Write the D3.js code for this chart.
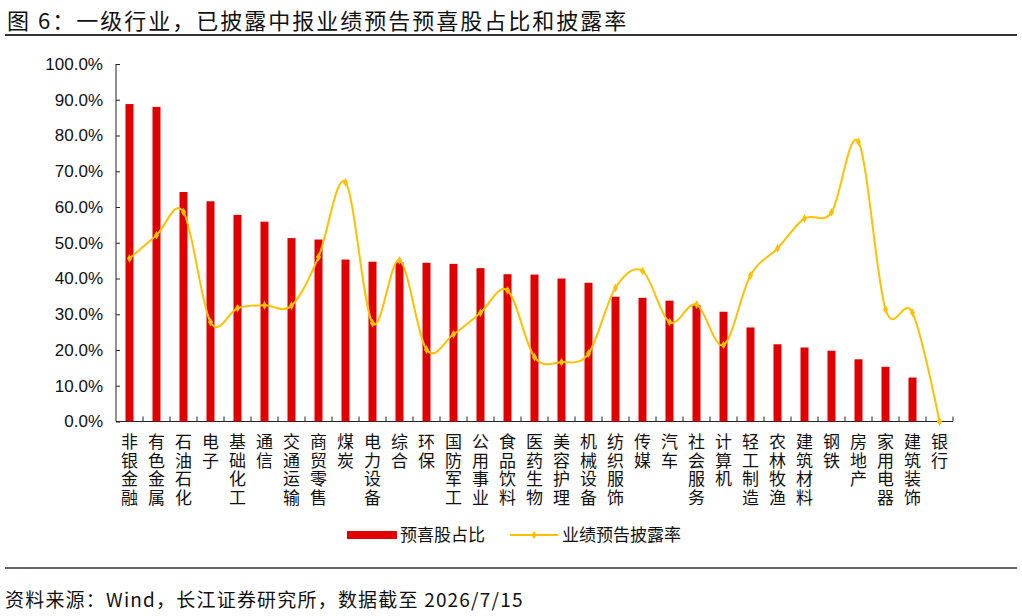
<!DOCTYPE html>
<html>
<head>
<meta charset="utf-8">
<script src="https://cdn.jsdelivr.net/npm/d3@7"></script>
<style>
  body { margin: 0; background: #fff; }
  svg { display: block; }
  .cn { font-family: "Noto Sans CJK SC", sans-serif; }
  .num { font-family: "Liberation Sans", Arial, sans-serif; }
</style>
</head>
<body>
<svg id="chart" width="1022" height="616"></svg>
<script>
  // industries, as printed under the axis
  var categories = ["非银金融", "有色金属", "石油石化", "电子", "基础化工", "通信", "交通运输", "商贸零售",
    "煤炭", "电力设备", "综合", "环保", "国防军工", "公用事业", "食品饮料", "医药生物", "美容护理",
    "机械设备", "纺织服饰", "传媒", "汽车", "社会服务", "计算机", "轻工制造", "农林牧渔", "建筑材料",
    "钢铁", "房地产", "家用电器", "建筑装饰", "银行"];

  // 预喜股占比 (%)
  var goodShare = [88.8, 88.0, 64.2, 61.6, 57.8, 55.9, 51.3, 50.9, 45.3, 44.7, 44.5, 44.4, 44.1, 42.9,
    41.2, 41.1, 40.0, 38.8, 34.9, 34.6, 33.8, 32.5, 30.7, 26.3, 21.6, 20.7, 19.8, 17.4, 15.3, 12.3, 0];

  // 业绩预告披露率 (%)
  var discloseRate = [45.6, 52.1, 58.6, 27.8, 31.7, 32.5, 32.4, 46.0, 66.9, 27.5, 45.1, 20.1, 24.4, 30.4,
    36.7, 18.0, 16.6, 19.0, 37.4, 42.1, 27.8, 32.7, 21.4, 40.9, 48.4, 56.8, 58.5, 78.2, 31.4, 30.4, 0];

  var yTicks = [0, 10, 20, 30, 40, 50, 60, 70, 80, 90, 100];

(function() {
  var svg = d3.select("#chart");
  var RED = "#e00000", GOLD = "#ffc000", INK = "#222";

  // {{{ title & frame lines
  svg.append("text").attr("class", "cn")
    .attr("x", 7).attr("y", 29)
    .attr("font-size", 22).attr("letter-spacing", 2).attr("fill", "#111")
    .text("图 6：一级行业，已披露中报业绩预告预喜股占比和披露率");
  svg.append("line").attr("x1", 5).attr("x2", 1017).attr("y1", 35).attr("y2", 35)
    .attr("stroke", "#333").attr("stroke-width", 2);
  svg.append("line").attr("x1", 5).attr("x2", 1017).attr("y1", 568).attr("y2", 568)
    .attr("stroke", "#333").attr("stroke-width", 1.5);
  svg.append("text").attr("class", "cn")
    .attr("x", 5).attr("y", 607)
    .attr("font-size", 19).attr("letter-spacing", 1.2).attr("fill", "#111")
    .text("资料来源：Wind，长江证券研究所，数据截至 2026/7/15");
  // }}}

  // {{{ scales
  var plotL = 116, plotR = 953, plotT = 64, plotB = 421.5;
  var x = d3.scaleBand().domain(categories).range([plotL, plotR]).padding(0);
  var y = d3.scaleLinear().domain([0, 100]).range([plotB, plotT]);
  var barW = 8;
  function cx(i) { return x(categories[i]) + x.bandwidth() / 2; }
  // }}}

  // {{{ axes
  var yAxis = d3.axisLeft(y).tickValues(yTicks)
    .tickSize(-4).tickPadding(13)
    .tickFormat(function(d) { return d.toFixed(1) + "%"; });
  var gy = svg.append("g").attr("transform", "translate(" + plotL + ",0)").call(yAxis);
  gy.select(".domain").attr("stroke", INK).attr("d", "M0," + plotT + "V" + plotB);
  gy.selectAll(".tick line").attr("stroke", INK);
  gy.selectAll(".tick text").attr("class", "num").attr("font-size", 17).attr("fill", "#111");

  svg.append("line").attr("x1", plotL).attr("x2", plotR).attr("y1", plotB).attr("y2", plotB)
    .attr("stroke", INK);
  svg.append("g").selectAll("line")
    .data(categories)
    .enter().append("line")
      .attr("x1", function(d) { return x(d) + x.bandwidth(); })
      .attr("x2", function(d) { return x(d) + x.bandwidth(); })
      .attr("y1", plotB).attr("y2", plotB - 5)
      .attr("stroke", INK);

  // vertical category labels, one character per row
  svg.append("g").selectAll("text")
    .data(categories)
    .enter().append("text")
      .attr("class", "cn")
      .attr("font-size", 17).attr("fill", "#111")
      .attr("text-anchor", "middle")
      .each(function(d, i) {
        var t = d3.select(this);
        d.split("").forEach(function(ch, k) {
          t.append("tspan").attr("x", cx(i)).attr("y", 448 + k * 18.5).text(ch);
        });
      });
  // }}}

  // {{{ bars
  svg.append("g").selectAll("rect")
    .data(goodShare)
    .enter().append("rect")
      .attr("x", function(d, i) { return cx(i) - barW / 2; })
      .attr("y", function(d) { return y(d); })
      .attr("width", barW)
      .attr("height", function(d) { return plotB - y(d); })
      .attr("fill", RED);
  // }}}

  // {{{ smoothed line
  var line = d3.line()
    .x(function(d, i) { return cx(i); })
    .y(function(d) { return y(d); })
    .curve(d3.curveCardinal.tension(0));
  svg.append("path").datum(discloseRate)
    .attr("d", line)
    .attr("fill", "none").attr("stroke", GOLD).attr("stroke-width", 2);
  svg.append("g").selectAll("path")
    .data(discloseRate)
    .enter().append("path")
      .attr("transform", function(d, i) { return "translate(" + cx(i) + "," + y(d) + ")"; })
      .attr("d", d3.symbol().type(d3.symbolDiamond).size(22))
      .attr("fill", GOLD);
  // }}}

  // {{{ legend
  var lg = svg.append("g");
  lg.append("rect").attr("x", 347).attr("y", 531).attr("width", 50).attr("height", 8).attr("fill", RED);
  lg.append("text").attr("class", "cn").attr("x", 400).attr("y", 541)
    .attr("font-size", 17).attr("fill", "#111").text("预喜股占比");
  lg.append("line").attr("x1", 510).attr("x2", 558).attr("y1", 535).attr("y2", 535)
    .attr("stroke", GOLD).attr("stroke-width", 2);
  lg.append("path").attr("transform", "translate(534,535)")
    .attr("d", d3.symbol().type(d3.symbolDiamond).size(22)).attr("fill", GOLD);
  lg.append("text").attr("class", "cn").attr("x", 562).attr("y", 541)
    .attr("font-size", 17).attr("fill", "#111").text("业绩预告披露率");
  // }}}
})();
</script>
</body>
</html>
